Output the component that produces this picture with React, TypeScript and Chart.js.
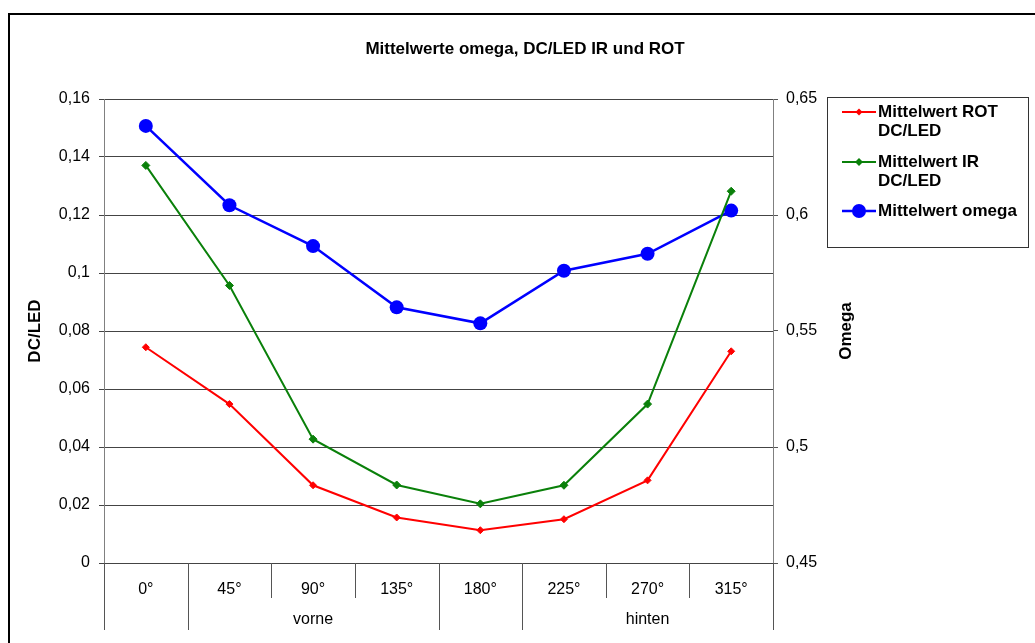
import React, { useEffect, useRef } from 'react';
import { Chart, registerables } from 'chart.js';

Chart.register(...registerables);

// ---------- data ----------
const chartTitle = 'Mittelwerte omega, DC/LED IR und ROT';
const leftAxisTitle = 'DC/LED';
const rightAxisTitle = 'Omega';

const categories = ['0°', '45°', '90°', '135°', '180°', '225°', '270°', '315°'];
const groupNames = ['', 'vorne', '', 'hinten'];
const groupSpans = [1, 3, 1, 3];

const rotValues = [0.0744, 0.0548, 0.0268, 0.0157, 0.0113, 0.0151, 0.0285, 0.073];
const irValues = [0.1371, 0.0957, 0.0427, 0.0269, 0.0204, 0.0268, 0.0548, 0.1282];
const omegaValues = [0.6384, 0.6042, 0.5866, 0.5602, 0.5533, 0.576, 0.5833, 0.6019];

const seriesNames = ['Mittelwert ROT DC/LED', 'Mittelwert IR DC/LED', 'Mittelwert omega'];
const legendLines = [['Mittelwert ROT', 'DC/LED'], ['Mittelwert IR', 'DC/LED'], ['Mittelwert omega']];

const leftTickValues = [0, 0.02, 0.04, 0.06, 0.08, 0.1, 0.12, 0.14, 0.16];
const leftTickLabels = ['0', '0,02', '0,04', '0,06', '0,08', '0,1', '0,12', '0,14', '0,16'];
const rightTickValues = [0.45, 0.5, 0.55, 0.6, 0.65];
const rightTickLabels = ['0,45', '0,5', '0,55', '0,6', '0,65'];

const FONT = '"Liberation Sans", Arial, sans-serif';

const overlayPlugin = {
  id: 'overlay',
  afterDraw(chart: any) {
    const ctx = chart.ctx as CanvasRenderingContext2D;
    const xs = chart.scales.x;
    const yr = chart.scales.y1;
    const area = chart.chartArea;
    const n = categories.length;
    const half = (xs.getPixelForValue(1) - xs.getPixelForValue(0)) / 2;
    const bound = (i: number) => (i < n ? xs.getPixelForValue(i) - half : xs.getPixelForValue(n - 1) + half);
    const y0 = Math.round(area.bottom);

    ctx.save();
    ctx.strokeStyle = '#555';
    ctx.lineWidth = 1;
    const vline = (x: number, ya: number, yb: number) => {
      const px = Math.round(x) + 0.5;
      ctx.beginPath();
      ctx.moveTo(px, ya);
      ctx.lineTo(px, yb);
      ctx.stroke();
    };
    for (let i = 1; i < n; i++) vline(bound(i), y0, y0 + 35);
    const gb = [0];
    let acc = 0;
    groupSpans.forEach((s) => { acc += s; gb.push(acc); });
    gb.forEach((i) => vline(bound(i), y0, y0 + 67));

    ctx.fillStyle = '#000';
    ctx.textAlign = 'center';
    ctx.textBaseline = 'middle';
    ctx.font = `16px ${FONT}`;
    categories.forEach((c, i) => ctx.fillText(c, xs.getPixelForValue(i), y0 + 27));
    groupNames.forEach((g, gi) => {
      if (!g) return;
      const mid = (bound(gb[gi]) + bound(gb[gi + 1])) / 2;
      ctx.fillText(g, mid, y0 + 57);
    });

    // right axis title (reads bottom-to-top)
    ctx.save();
    ctx.translate(yr.left + 73, (area.top + area.bottom) / 2);
    ctx.rotate(-Math.PI / 2);
    ctx.font = `bold 17px ${FONT}`;
    ctx.fillText(rightAxisTitle, 0, 0);
    ctx.restore();

    // legend
    const lx = yr.left + 54;
    const ly = area.top - 2;
    ctx.strokeStyle = '#333';
    ctx.lineWidth = 1;
    ctx.strokeRect(Math.round(lx) + 0.5, Math.round(ly) + 0.5, 201, 150);
    const itemY = [ly + 15, ly + 65, ly + 114];
    ctx.textAlign = 'left';
    ctx.font = `bold 17px ${FONT}`;
    chart.data.datasets.forEach((ds: any, i: number) => {
      const y = itemY[i];
      const x1 = lx + 15;
      const x2 = lx + 49;
      ctx.strokeStyle = ds.borderColor;
      ctx.lineWidth = ds.borderWidth;
      ctx.beginPath();
      ctx.moveTo(x1, y);
      ctx.lineTo(x2, y);
      ctx.stroke();
      const cx = (x1 + x2) / 2;
      const r = ds.pointRadius;
      ctx.fillStyle = ds.backgroundColor;
      ctx.beginPath();
      if (ds.pointStyle === 'rectRot') {
        ctx.moveTo(cx, y - r);
        ctx.lineTo(cx + r, y);
        ctx.lineTo(cx, y + r);
        ctx.lineTo(cx - r, y);
        ctx.closePath();
      } else {
        ctx.arc(cx, y, r, 0, Math.PI * 2);
      }
      ctx.fill();
      ctx.fillStyle = '#000';
      legendLines[i].forEach((t, k) => ctx.fillText(t, lx + 51, y + k * 19));
    });
    ctx.restore();
  },
};

export default function App() {
  const ref = useRef<HTMLCanvasElement | null>(null);

  useEffect(() => {
    if (!ref.current) return;
    Chart.defaults.font.family = FONT;
    const chart = new Chart(ref.current, {
      type: 'line',
      data: {
        labels: categories,
        datasets: [
          {
            label: seriesNames[0],
            data: rotValues,
            yAxisID: 'y',
            borderColor: '#ff0000',
            backgroundColor: '#ff0000',
            borderWidth: 2,
            pointStyle: 'rectRot',
            pointRadius: 3.5,
            pointBorderWidth: 1,
            tension: 0,
          },
          {
            label: seriesNames[1],
            data: irValues,
            yAxisID: 'y',
            borderColor: '#0a800a',
            backgroundColor: '#0a800a',
            borderWidth: 2,
            pointStyle: 'rectRot',
            pointRadius: 4,
            pointBorderWidth: 1,
            tension: 0,
          },
          {
            label: seriesNames[2],
            data: omegaValues,
            yAxisID: 'y1',
            borderColor: '#0000ff',
            backgroundColor: '#0000ff',
            borderWidth: 2.5,
            pointStyle: 'circle',
            pointRadius: 7,
            pointBorderWidth: 0,
            tension: 0,
          },
        ],
      },
      options: {
        animation: false,
        responsive: false,
        events: [],
        layout: { padding: { left: 21, right: 6, top: 0, bottom: 0 } },
        plugins: {
          legend: { display: false },
          tooltip: { enabled: false },
          title: {
            display: true,
            text: chartTitle,
            color: '#000',
            font: { size: 17, weight: 'bold', family: FONT },
            padding: { top: 39, bottom: 39.6 },
          },
        },
        scales: {
          x: {
            type: 'category',
            offset: true,
            grid: { display: false },
            border: { display: true, color: '#444', width: 1 },
            ticks: { display: false },
            afterFit: (s: any) => { s.height = 80; },
          },
          y: {
            position: 'left',
            min: 0,
            max: 0.16,
            afterBuildTicks: (s: any) => { s.ticks = leftTickValues.map((v) => ({ value: v })); },
            ticks: {
              color: '#000',
              font: { size: 16, family: FONT },
              padding: 9,
              callback: (v: any) => {
                const i = leftTickValues.findIndex((t) => Math.abs(t - Number(v)) < 1e-9);
                return i >= 0 ? leftTickLabels[i] : '';
              },
            },
            grid: { color: '#444', lineWidth: 1, tickLength: 5, drawTicks: true },
            border: { color: '#808080', width: 1 },
            title: {
              display: true,
              text: leftAxisTitle,
              color: '#000',
              font: { size: 17, weight: 'bold', family: FONT },
              padding: { top: 4, bottom: 4 },
            },
            afterFit: (s: any) => { s.width = 83; },
          },
          y1: {
            position: 'right',
            min: 0.45,
            max: 0.65,
            afterBuildTicks: (s: any) => { s.ticks = rightTickValues.map((v) => ({ value: v })); },
            ticks: {
              color: '#000',
              font: { size: 16, family: FONT },
              padding: 8,
              callback: (v: any) => {
                const i = rightTickValues.findIndex((t) => Math.abs(t - Number(v)) < 1e-9);
                return i >= 0 ? rightTickLabels[i] : '';
              },
            },
            grid: { drawOnChartArea: false, color: '#555', tickLength: 5, drawTicks: true },
            border: { color: '#808080', width: 1 },
            afterFit: (s: any) => { s.width = 256; },
          },
        },
      } as any,
      plugins: [overlayPlugin],
    });
    return () => chart.destroy();
  }, []);

  return (
    <div
      style={{
        position: 'fixed',
        left: 0,
        top: 0,
        width: 1035,
        height: 643,
        overflow: 'hidden',
        background: '#fff',
      }}
    >
      <div
        style={{
          position: 'absolute',
          left: 8,
          top: 13,
          width: 1060,
          height: 680,
          border: '2px solid #000',
          boxSizing: 'border-box',
        }}
      />
      <canvas ref={ref} width={1035} height={643} style={{ position: 'absolute', left: 0, top: 0 }} />
    </div>
  );
}
